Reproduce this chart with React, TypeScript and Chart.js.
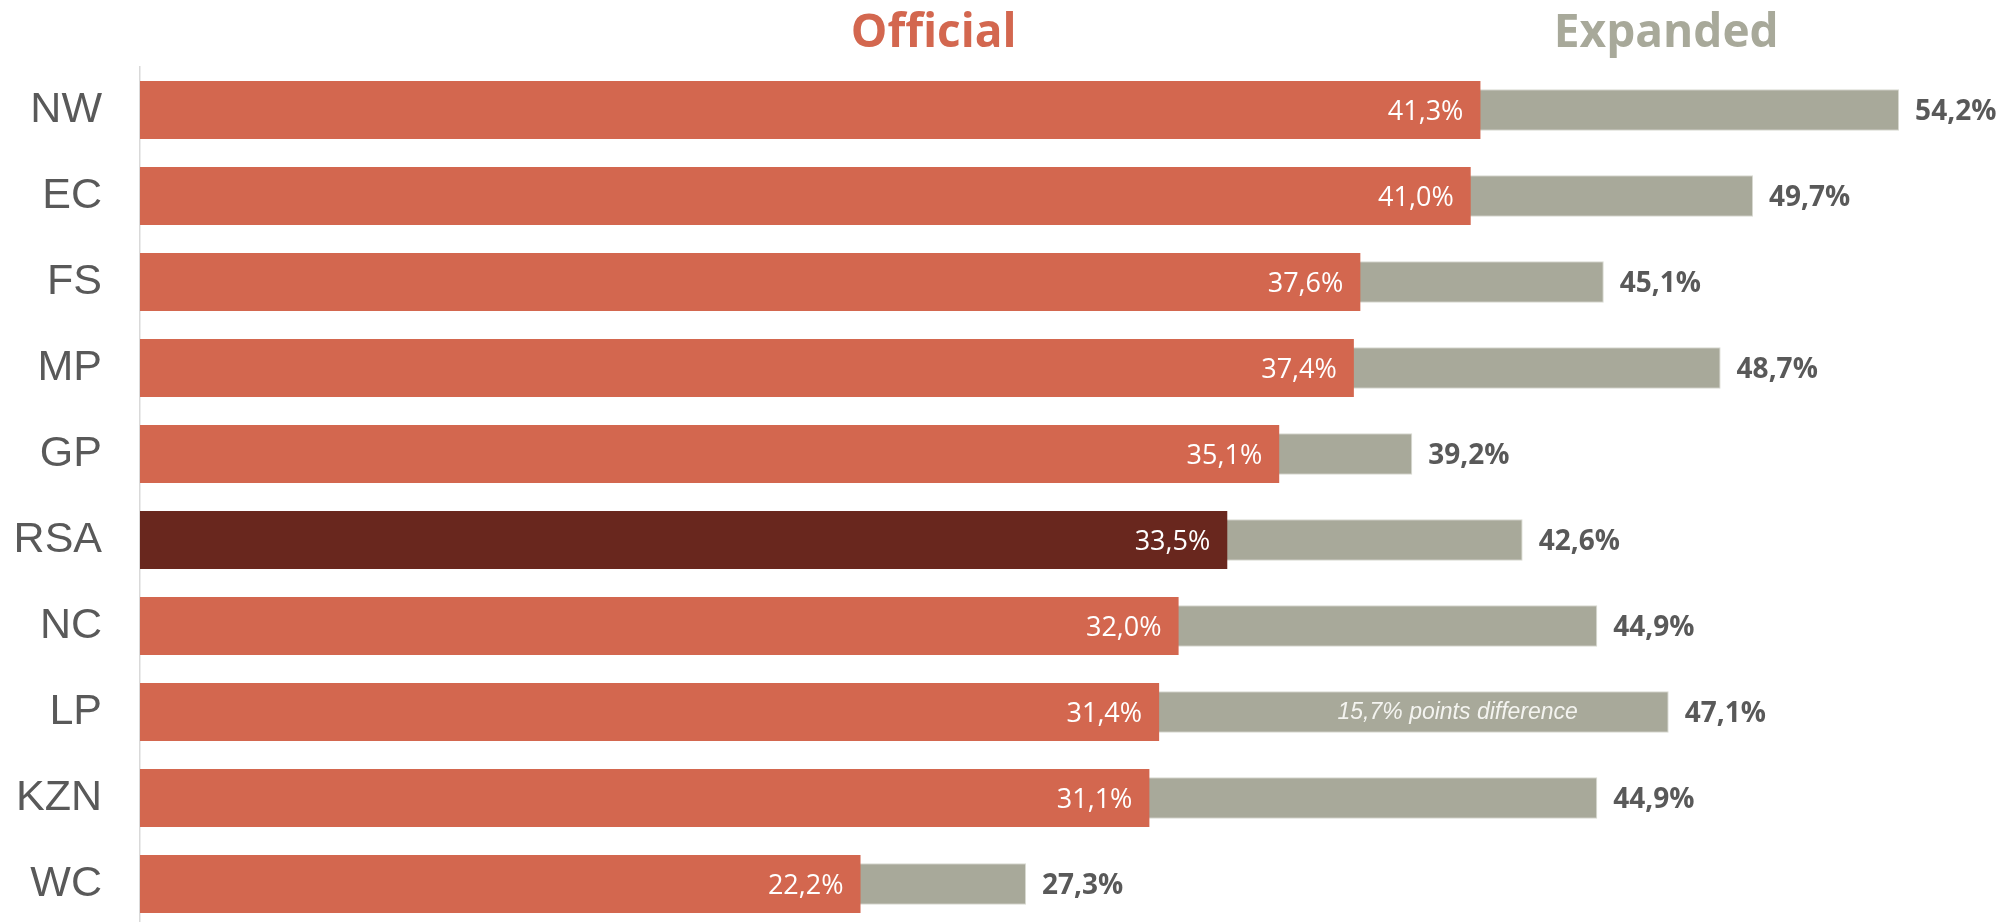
import React, { useEffect, useRef } from "react";
import { Chart, registerables } from "chart.js";

Chart.register(...registerables);

const categories = ["NW", "EC", "FS", "MP", "GP", "RSA", "NC", "LP", "KZN", "WC"];
const officialValues = [41.3, 41.0, 37.6, 37.4, 35.1, 33.5, 32.0, 31.4, 31.1, 22.2];
const expandedValues = [54.2, 49.7, 45.1, 48.7, 39.2, 42.6, 44.9, 47.1, 44.9, 27.3];
const seriesNames = ["Official", "Expanded"];
const highlightCategory = "RSA";
const annotationCategory = "LP";
const annotationCenterValue = 40.6;
const xMin = 0;
const xMax = 57;

const OFFICIAL_COLOR = "#D3674F";
const HIGHLIGHT_COLOR = "#69271E";
const EXPANDED_COLOR = "#A8A99A";
const LABEL_GREY = "#595959";
const SANS = '"Open Sans", "Noto Sans", sans-serif';
const ARIAL = '"Liberation Sans", Arial, sans-serif';

const W = 2011;
const H = 927;

const fmt = (v: number) => v.toFixed(1).replace(".", ",") + "%";

const labelsPlugin = {
  id: "customLabels",
  afterDatasetsDraw(chart: any) {
    const ctx = chart.ctx;
    const area = chart.chartArea;
    const off = chart.getDatasetMeta(0);
    const exp = chart.getDatasetMeta(1);
    ctx.save();
    // Official values inside bar ends
    ctx.font = `400 27px ${SANS}`;
    ctx.fillStyle = "#FFFFFF";
    ctx.textAlign = "right";
    ctx.textBaseline = "middle";
    off.data.forEach((bar: any, i: number) => {
      ctx.fillText(fmt(officialValues[i]), bar.x - 17, bar.y + 2);
    });
    // Expanded values to the right
    ctx.font = `700 28px ${SANS}`;
    ctx.fillStyle = LABEL_GREY;
    ctx.textAlign = "left";
    exp.data.forEach((bar: any, i: number) => {
      ctx.fillText(fmt(expandedValues[i]), bar.x + 16, bar.y + 2);
    });
    // Annotation
    const ai = categories.indexOf(annotationCategory);
    if (ai >= 0) {
      const diff = expandedValues[ai] - officialValues[ai];
      const xs = chart.scales.x;
      ctx.font = `italic 400 23px ${ARIAL}`;
      ctx.fillStyle = "#F4F4F0";
      ctx.textAlign = "center";
      ctx.fillText(`${fmt(diff)} points difference`, xs.getPixelForValue(annotationCenterValue), exp.data[ai].y + 1);
    }
    // Series headers
    ctx.font = `700 46px ${SANS}`;
    ctx.textAlign = "center";
    ctx.textBaseline = "alphabetic";
    const w = area.right - area.left;
    ctx.fillStyle = OFFICIAL_COLOR;
    ctx.fillText(seriesNames[0], area.left + w * 0.429, 47);
    ctx.fillStyle = EXPANDED_COLOR;
    ctx.fillText(seriesNames[1], area.left + w * 0.825, 47);
    ctx.restore();
  },
};

export default function App() {
  const canvasRef = useRef<HTMLCanvasElement | null>(null);

  useEffect(() => {
    if (!canvasRef.current) return;
    const chart = new Chart(canvasRef.current, {
      type: "bar",
      data: {
        labels: categories,
        datasets: [
          {
            label: seriesNames[0],
            data: officialValues,
            backgroundColor: categories.map((c) => (c === highlightCategory ? HIGHLIGHT_COLOR : OFFICIAL_COLOR)),
            borderWidth: 0,
            barPercentage: 0.674,
            categoryPercentage: 1,
            grouped: false,
            order: 0,
          } as any,
          {
            label: seriesNames[1],
            data: expandedValues,
            backgroundColor: EXPANDED_COLOR,
            borderColor: "#D9DAD2",
            borderWidth: 1,
            barPercentage: 0.482,
            categoryPercentage: 1,
            grouped: false,
            order: 1,
          } as any,
        ],
      },
      options: {
        indexAxis: "y",
        animation: false,
        responsive: false,
        devicePixelRatio: 1,
        layout: { padding: { top: 67, right: 21, bottom: 0, left: 0 } },
        plugins: {
          legend: { display: false },
          tooltip: { enabled: false },
        },
        scales: {
          x: { display: false, min: xMin, max: xMax },
          y: {
            grid: { display: false, drawTicks: false },
            border: { display: true, color: "#D9D9D9", width: 1.5 },
            ticks: {
              color: LABEL_GREY,
              font: { family: ARIAL, size: 43 },
              padding: 38,
            },
            afterFit: (s: any) => {
              s.width = 140;
              s.paddingTop = 0;
              s.paddingBottom = 0;
            },
          },
        },
      },
      plugins: [labelsPlugin],
    });
    return () => chart.destroy();
  }, []);

  return (
    <div style={{ position: "fixed", left: 0, top: 0, width: W, height: H, background: "#fff" }}>
      <canvas ref={canvasRef} width={W} height={H} style={{ display: "block", width: W, height: H }} />
    </div>
  );
}
